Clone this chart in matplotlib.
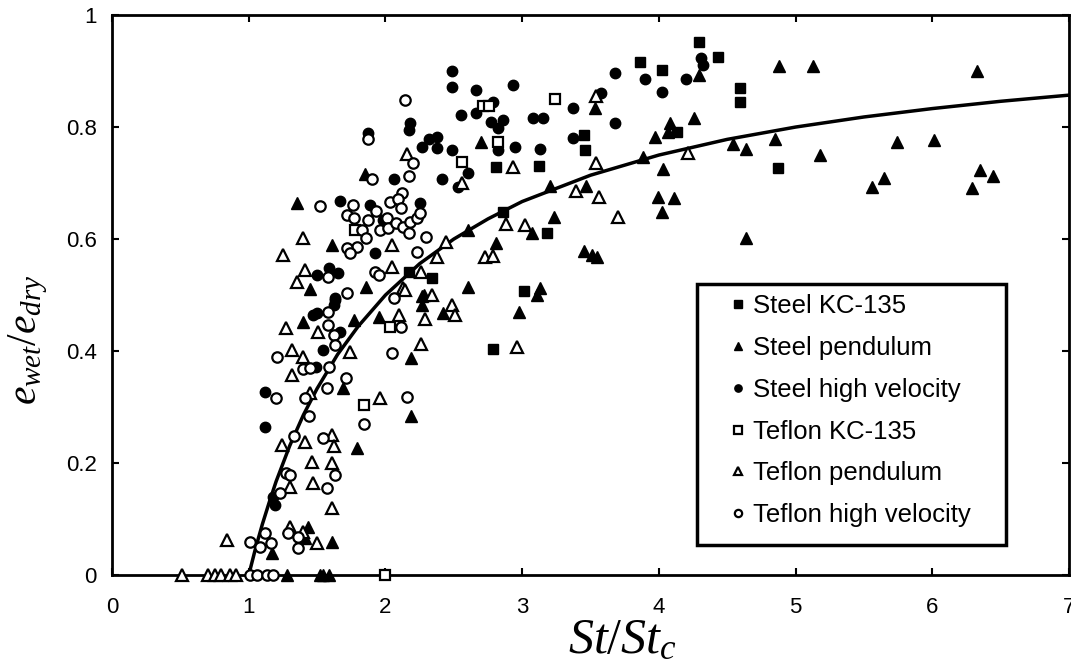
import matplotlib
matplotlib.use("Agg")
import matplotlib.pyplot as plt
from matplotlib.patches import Rectangle

plt.rcParams['font.family'] = ['Liberation Sans', 'DejaVu Sans']
plt.rcParams['mathtext.fontset'] = 'custom'
plt.rcParams['mathtext.it'] = 'Liberation Serif:italic'
plt.rcParams['mathtext.rm'] = 'Liberation Serif'

# data: (St/St_c, e_wet/e_dry)
steel_kc_x = [2.17, 2.34, 2.81, 3.12, 2.86, 3.18, 3.01, 2.79, 3.45, 3.46, 3.86, 4.02, 4.29, 4.43, 4.59, 4.59, 4.13, 4.87]
steel_kc_y = [0.541, 0.530, 0.729, 0.730, 0.648, 0.611, 0.507, 0.404, 0.786, 0.759, 0.916, 0.902, 0.952, 0.925, 0.870, 0.845, 0.791, 0.727]

steel_pend_x = [1.35, 1.85, 1.61, 1.45, 1.86, 2.28, 2.70, 3.53, 4.29, 4.08, 4.26, 3.97, 4.07, 4.54, 4.64, 3.88,
                4.03, 3.99, 4.11, 4.02, 4.64, 3.47, 3.20, 3.07, 3.23, 2.81, 3.45, 3.51, 3.55, 2.60, 2.60, 3.13,
                3.11, 2.98, 2.27, 2.27, 2.42, 2.19, 2.19, 4.88, 5.13, 6.33, 4.85, 5.18, 5.74, 6.01, 5.56, 5.65,
                6.29, 6.35, 6.44, 1.40, 1.77, 1.69, 1.79, 1.95, 1.17, 1.43, 1.41, 1.61, 1.28, 1.52, 1.54, 1.59]
steel_pend_y = [0.665, 0.717, 0.589, 0.511, 0.514, 0.500, 0.773, 0.834, 0.893, 0.807, 0.816, 0.782, 0.791, 0.770, 0.761, 0.747,
                0.725, 0.675, 0.673, 0.648, 0.602, 0.695, 0.695, 0.611, 0.639, 0.593, 0.579, 0.571, 0.568, 0.616, 0.514, 0.512,
                0.500, 0.470, 0.498, 0.482, 0.468, 0.388, 0.284, 0.909, 0.909, 0.900, 0.778, 0.750, 0.773, 0.777, 0.693, 0.709,
                0.691, 0.723, 0.712, 0.452, 0.455, 0.334, 0.227, 0.461, 0.039, 0.086, 0.066, 0.059, 0.0, 0.0, 0.0, 0.0]

steel_hv_x = [2.49, 2.49, 2.18, 2.17, 1.87, 2.27, 2.32, 2.38, 2.38, 2.49, 2.06, 2.41, 1.67, 1.89, 1.98, 2.25, 1.92,
              1.50, 1.59, 1.65, 1.63, 2.66, 2.93, 2.79, 2.55, 2.66, 2.77, 2.86, 2.82, 3.08, 3.15, 2.82, 2.95, 3.13,
              2.60, 2.53, 3.37, 3.68, 3.58, 3.68, 3.37, 3.90, 4.02, 4.20, 4.31, 4.32, 1.63, 1.62, 1.50, 1.47, 1.67,
              1.54, 1.49, 1.12, 1.12, 1.19, 1.18]
steel_hv_y = [0.900, 0.871, 0.807, 0.795, 0.789, 0.764, 0.778, 0.782, 0.762, 0.759, 0.708, 0.708, 0.668, 0.661, 0.634, 0.664, 0.575,
              0.536, 0.548, 0.539, 0.495, 0.866, 0.875, 0.845, 0.821, 0.825, 0.809, 0.812, 0.798, 0.816, 0.816, 0.759, 0.764, 0.760,
              0.718, 0.693, 0.834, 0.897, 0.860, 0.807, 0.780, 0.886, 0.862, 0.886, 0.923, 0.911, 0.491, 0.482, 0.468, 0.464, 0.434,
              0.402, 0.371, 0.327, 0.264, 0.125, 0.139]

teflon_kc_x = [1.78, 2.71, 2.76, 2.82, 2.56, 3.24, 1.84, 2.03, 2.00]
teflon_kc_y = [0.616, 0.837, 0.837, 0.773, 0.737, 0.850, 0.304, 0.443, 0.0]

teflon_pend_x = [2.16, 2.05, 1.40, 1.25, 1.41, 1.35, 2.05, 2.26, 2.44, 2.38, 2.34, 2.13, 2.56, 2.93, 3.54, 3.54, 4.21,
                 3.70, 3.56, 3.39, 2.88, 3.02, 2.73, 2.79, 2.96, 2.49, 2.51, 2.29, 2.26, 1.27, 1.51, 1.74, 1.32, 1.40,
                 1.32, 1.45, 1.24, 1.41, 1.61, 1.62, 1.46, 1.61, 1.30, 1.47, 1.61, 1.96, 2.10, 2.14, 0.84, 1.30, 1.40,
                 1.50, 0.51, 0.70, 0.75, 0.80, 0.86, 0.91]
teflon_pend_y = [0.752, 0.589, 0.601, 0.571, 0.545, 0.523, 0.550, 0.541, 0.595, 0.568, 0.500, 0.512, 0.700, 0.729, 0.855, 0.735, 0.754,
                 0.639, 0.675, 0.686, 0.627, 0.625, 0.568, 0.570, 0.407, 0.482, 0.464, 0.457, 0.412, 0.441, 0.434, 0.398, 0.402, 0.389,
                 0.357, 0.325, 0.232, 0.238, 0.250, 0.230, 0.202, 0.200, 0.157, 0.164, 0.120, 0.316, 0.464, 0.509, 0.063, 0.086, 0.077,
                 0.057, 0.0, 0.0, 0.0, 0.0, 0.0, 0.0]

teflon_hv_x = [2.14, 1.87, 1.90, 2.20, 2.17, 2.12, 1.52, 1.76, 1.72, 1.77, 1.93, 2.03, 2.09, 2.11, 2.01, 1.96, 2.02,
               2.08, 2.13, 2.18, 2.23, 2.25, 2.17, 2.30, 1.87, 1.83, 1.86, 1.79, 1.72, 1.74, 1.58, 1.72, 1.92, 1.95,
               2.23, 2.06, 1.58, 1.58, 1.62, 1.63, 1.21, 1.40, 1.45, 1.59, 1.57, 1.71, 1.20, 1.41, 1.44, 1.33, 1.54,
               1.63, 1.27, 1.30, 1.57, 1.23, 1.84, 2.16, 2.05, 2.11, 1.01, 1.08, 1.12, 1.16, 1.29, 1.36, 1.36,
               1.01, 1.06, 1.13, 1.18]
teflon_hv_y = [0.848, 0.778, 0.708, 0.735, 0.712, 0.682, 0.659, 0.661, 0.643, 0.637, 0.650, 0.666, 0.671, 0.655, 0.637, 0.616, 0.619,
               0.628, 0.621, 0.630, 0.637, 0.646, 0.610, 0.604, 0.634, 0.616, 0.601, 0.586, 0.584, 0.575, 0.532, 0.504, 0.541, 0.536,
               0.577, 0.495, 0.470, 0.446, 0.429, 0.411, 0.389, 0.368, 0.370, 0.371, 0.334, 0.352, 0.316, 0.316, 0.284, 0.248, 0.245,
               0.179, 0.182, 0.179, 0.155, 0.146, 0.270, 0.318, 0.396, 0.443, 0.059, 0.050, 0.075, 0.057, 0.075, 0.068, 0.048,
               0.0, 0.0, 0.0, 0.0]

# model curve
curve_x = [1.0, 1.05, 1.1, 1.15, 1.2, 1.3, 1.4, 1.5, 1.65, 1.8, 2.0, 2.25, 2.5, 2.75, 3.0, 3.5, 4.0, 4.5, 5.0, 5.5, 6.0, 6.5, 7.0]
curve_y = [0.0, 0.048, 0.091, 0.130, 0.167, 0.231, 0.286, 0.333, 0.394, 0.444, 0.500, 0.556, 0.600, 0.636, 0.667, 0.714,
           0.750, 0.778, 0.800, 0.818, 0.833, 0.846, 0.857]

fig = plt.figure(figsize=(10.71, 6.63), dpi=100)
ax = fig.add_axes([0.1046, 0.1327, 0.8936, 0.8446])

ms = 7.5
mew = 1.6
ax.plot(curve_x, curve_y, color='black', lw=2.5, zorder=2)
ax.plot(steel_kc_x, steel_kc_y, 's', ms=ms, color='black', label='Steel KC-135', clip_on=False, zorder=3)
ax.plot(steel_pend_x, steel_pend_y, '^', ms=ms + 0.5, color='black', label='Steel pendulum', clip_on=False, zorder=3)
ax.plot(steel_hv_x, steel_hv_y, 'o', ms=ms, color='black', label='Steel high velocity', clip_on=False, zorder=3)
ax.plot(teflon_kc_x, teflon_kc_y, 's', ms=ms, mfc='white', mec='black', mew=mew, label='Teflon KC-135', clip_on=False, zorder=4)
ax.plot(teflon_pend_x, teflon_pend_y, '^', ms=ms + 0.5, mfc='white', mec='black', mew=mew, label='Teflon pendulum', clip_on=False, zorder=4)
ax.plot(teflon_hv_x, teflon_hv_y, 'o', ms=ms, mfc='white', mec='black', mew=mew, label='Teflon high velocity', clip_on=False, zorder=4)

ax.set_xlim(0, 7)
ax.set_ylim(0, 1)
ax.set_xticks(range(8))
ax.set_yticks([0, 0.2, 0.4, 0.6, 0.8, 1])
ax.set_yticklabels(['0', '0.2', '0.4', '0.6', '0.8', '1'])
ax.tick_params(direction='in', length=5, width=1.5, top=True, right=True, labelsize=16)
ax.tick_params(axis='x', pad=16)
ax.tick_params(axis='y', pad=11)
for s in ax.spines.values():
    s.set_linewidth(2)

ax.set_xlabel(r'$St/St_c$', fontsize=36)
ax.set_ylabel(r'$e_{wet}/e_{dry}$', fontsize=30)
ax.xaxis.set_label_coords(0.533, -0.075)
ax.yaxis.set_label_coords(-0.065, 0.42)

# legend box drawn separately so the entries can sit where they do in the original
ax.add_patch(Rectangle((0.611, 0.0536), 0.323, 0.466, transform=ax.transAxes, fill=True,
                       facecolor='white', edgecolor='black', lw=2.5, zorder=5))
leg = ax.legend(loc='upper left', bbox_to_anchor=(0.6458, 0.501), fontsize=18.5, frameon=False,
                markerscale=0.7, handlelength=0.6, handletextpad=0.3, labelspacing=0.69,
                borderpad=0, borderaxespad=0)
leg.set_zorder(6)

fig.savefig('out.png', dpi=100)
